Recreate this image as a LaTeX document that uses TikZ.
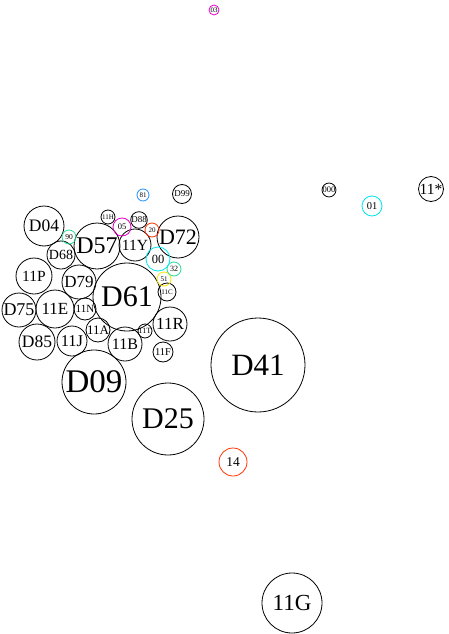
\documentclass[tikz,border=0pt]{standalone}
\usepackage{fontspec}
\setmainfont{Liberation Serif}
\definecolor{cmag}{RGB}{230,0,200}
\definecolor{cblue}{RGB}{30,144,255}
\definecolor{ccyan}{RGB}{0,230,240}
\definecolor{cgreen}{RGB}{40,220,150}
\definecolor{cyel}{RGB}{250,230,0}
\definecolor{cred}{RGB}{255,50,0}
\tikzset{
  bub/.style={circle, draw=black, line width=0.8pt, inner sep=0pt},
}
\newcommand{\bub}[6][black]{%
  \node[bub, draw=#1, minimum size=#5*2pt, font=\fontsize{#6pt}{#6pt}\selectfont] (#2) at (#3,#4) {#2};}
\begin{document}
\begin{tikzpicture}[x=1pt,y=-1pt]
\useasboundingbox (0,0) rectangle (448,634);
\bub{D41}{258}{365}{47}{31}
\bub{D25}{168}{419}{36}{30}
\bub{D09}{94}{382}{32}{33}
\bub{D61}{127}{297}{34}{30}
\bub{D57}{97}{246}{23}{24}
\bub{D72}{178}{237}{21}{22}
\bub{D04}{44}{226}{20}{17.5}
\bub{11P}{34}{276}{18}{15.5}
\bub{D79}{79}{282}{17}{17}
\bub{D68}{61}{255}{14}{14}
\bub{11Y}{135}{245}{16}{15.5}
\bub{D75}{19}{310}{17}{18}
\bub{11E}{55}{309}{19}{17}
\bub{11N}{85}{309}{11}{11}
\bub{11A}{98}{330}{12}{13}
\bub{D85}{37}{342}{18}{17.5}
\bub{11J}{72}{341}{15}{16.5}
\bub{11B}{125}{344}{17}{16}
\bub{11R}{170}{324}{17}{17}
\bub{11T}{145}{331}{7}{8}
\bub{11F}{163}{352}{10}{10.5}
\bub{11C}{167}{292}{9}{7}
\bub[cyel]{51}{164}{279}{7}{7}
\bub[cgreen]{32}{174}{269}{7}{8}
\bub[ccyan]{00}{158}{259}{12}{12.5}
\bub[cred]{20}{152}{230}{7}{7}
\bub{D88}{139}{220}{8}{9}
\bub[cmag]{05}{122}{227}{9}{8.5}
\bub{11H}{108}{217}{7}{7}
\bub[cgreen]{90}{69}{237}{7}{7.5}
\bub[cblue]{81}{143}{195}{6}{7}
\bub{D99}{182}{194}{9.5}{9}
\bub{000}{329}{190}{6.5}{8.5}
\bub[ccyan]{01}{372}{206}{10}{10.5}
\bub{11*}{431}{189}{12.5}{15.5}
\bub[cmag]{03}{214}{10}{5}{7}
\bub[cred]{14}{233}{462}{14}{13.5}
\bub{11G}{292}{603}{30}{23}
\end{tikzpicture}
\end{document}
